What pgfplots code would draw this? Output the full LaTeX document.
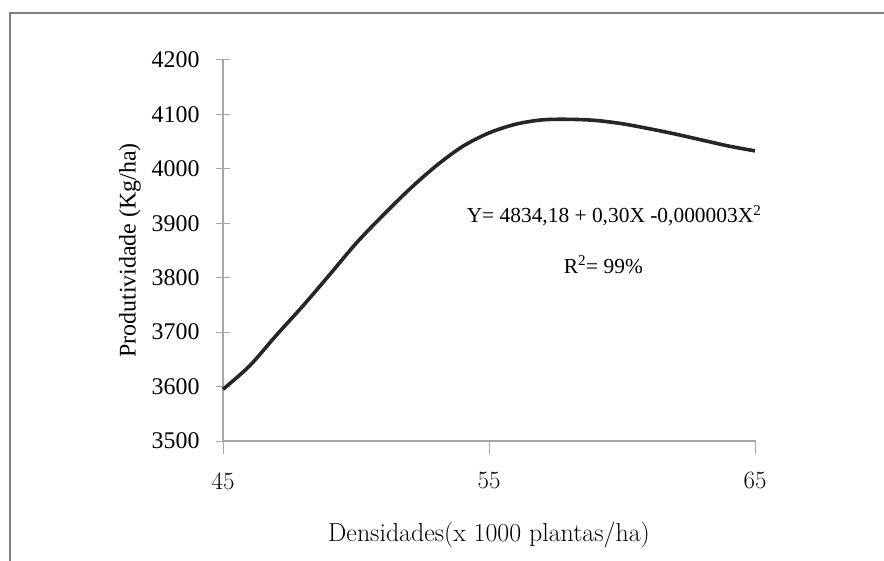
\documentclass[border=0pt]{standalone}
\usepackage{fontspec}
\usepackage{pgfplots}
\pgfplotsset{compat=1.18}
\newfontfamily\tnr{Liberation Serif}
\definecolor{axgray}{HTML}{A6A6A6}
\definecolor{framegray}{HTML}{7F7F7F}
\definecolor{curve}{HTML}{262626}
\begin{document}
\begin{tikzpicture}
\useasboundingbox (0,0) rectangle (884bp,561bp);
\draw[framegray, line width=1.2bp] (10bp,0) -- (10bp,548bp) -- (884bp,548bp);
\begin{axis}[
  at={(223bp,120bp)}, anchor=south west,
  scale only axis, width=532bp, height=381bp,
  xmin=45, xmax=65, ymin=3500, ymax=4200,
  axis lines=left, axis line style={-, axgray, line width=1.3bp},
  xtick={45,55,65}, ytick={3500,3600,...,4200},
  tick align=center, major tick length=14bp,
  every tick/.style={axgray, line width=1bp},
  x tick style={yshift=-6bp},
  /pgf/number format/assume math mode=true,
  /pgf/number format/1000 sep={},
  x tick label style={font=\fontsize{25}{27}\selectfont, yshift=-21bp},
  y tick label style={font=\tnr\fontsize{24}{26}\selectfont, xshift=-13bp},
  xlabel={Densidades(x 1000 plantas/ha)},
  ylabel={Produtividade (Kg/ha)},
  xlabel style={font=\fontsize{26}{28}\selectfont, at={(axis description cs:0.5,0)}, anchor=center, yshift=-94bp},
  ylabel style={font=\tnr\fontsize{24}{26}\selectfont, at={(axis description cs:0,0.5)}, anchor=center, yshift=93bp},
  clip=false,
]
\addplot[curve, line width=3.6bp, smooth] coordinates {
(45,3595) (46,3638) (47,3694) (48,3748) (49,3805) (50,3863) (51,3914)
(52,3962) (53,4005) (54,4041) (55,4066) (56,4082) (57,4090) (58,4091)
(59,4089) (60,4083) (61,4074) (62,4064) (63,4053) (64,4042) (65,4033)
};
\node[font=\tnr\fontsize{21.5}{24}\selectfont] at (axis cs:59.7,3914) {Y= 4834,18 + 0,30X -0,000003X\textsuperscript{2}};
\node[font=\tnr\fontsize{21.5}{24}\selectfont] at (axis cs:59.3,3824) {R\textsuperscript{2}= 99\%};
\end{axis}
\end{tikzpicture}
\end{document}
